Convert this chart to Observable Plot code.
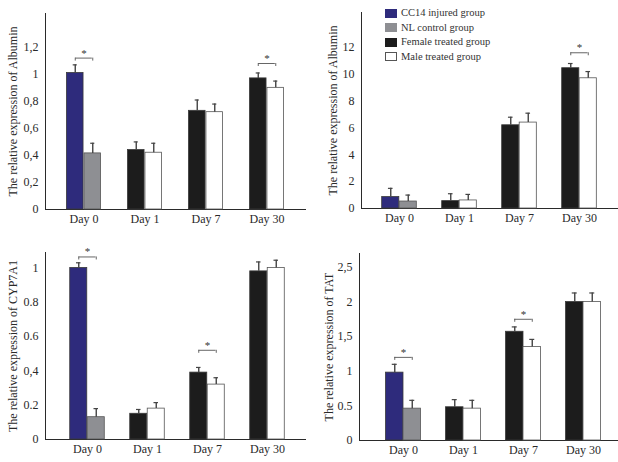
<!DOCTYPE html>
<html>
<head>
<meta charset="utf-8">
<script src="https://cdn.jsdelivr.net/npm/d3@7"></script>
<script src="https://cdn.jsdelivr.net/npm/@observablehq/plot@0.6"></script>
<style>
  html, body { margin: 0; padding: 0; background: white; }
  #root { position: relative; width: 618px; height: 462px; background: white; overflow: hidden; font-family: "Liberation Serif", serif; }
  .panel { position: absolute; }
  #legend { position: absolute; left: 385px; top: 6px; font-size: 10.5px; color: #333; line-height: 14.5px; }
  #legend .row { display: flex; align-items: center; height: 14.5px; }
  #legend .sw { width: 12px; height: 9px; margin-right: 4px; box-sizing: border-box; }
</style>
</head>
<body>
<div id="root"><div id="legend"></div></div>
<script>
// ---- data ----
const days = ["Day 0", "Day 1", "Day 7", "Day 30"];
const groups = ["CC14 injured group", "NL control group", "Female treated group", "Male treated group"];
const groupColors = ["#2e2b7c", "#8e8f93", "#1c1c1c", "#ffffff"];

// Albumin (top-left)
const albA_left = [1.01, 0.44, 0.73, 0.97];
const albA_leftSd = [0.06, 0.06, 0.08, 0.04];
const albA_right = [0.415, 0.42, 0.72, 0.90];
const albA_rightSd = [0.075, 0.07, 0.06, 0.05];
const albA_sig = [{day: "Day 0", level: 1.12}, {day: "Day 30", level: 1.08}];
const albA_ticks = [0, 0.2, 0.4, 0.6, 0.8, 1, 1.2];
const albA_tickLabels = ["0", "0,2", "0,4", "0,6", "0,8", "1", "1,2"];

// Albumin (top-right)
const albB_left = [0.85, 0.55, 6.2, 10.45];
const albB_leftSd = [0.65, 0.55, 0.6, 0.35];
const albB_right = [0.52, 0.6, 6.4, 9.7];
const albB_rightSd = [0.48, 0.45, 0.7, 0.5];
const albB_sig = [{day: "Day 30", level: 11.6}];
const albB_ticks = [0, 2, 4, 6, 8, 10, 12];
const albB_tickLabels = ["0", "2", "4", "6", "8", "10", "12"];

// CYP7A1 (bottom-left)
const cyp_left = [1.0, 0.15, 0.39, 0.98];
const cyp_leftSd = [0.03, 0.025, 0.03, 0.055];
const cyp_right = [0.13, 0.18, 0.32, 1.0];
const cyp_rightSd = [0.05, 0.035, 0.04, 0.045];
const cyp_sig = [{day: "Day 0", level: 1.064}, {day: "Day 7", level: 0.52}];
const cyp_ticks = [0, 0.2, 0.4, 0.6, 0.8, 1];
const cyp_tickLabels = ["0", "0.2", "0,4", "0.6", "0.8", "1"];

// TAT (bottom-right)
const tat_left = [0.98, 0.48, 1.57, 2.0];
const tat_leftSd = [0.12, 0.11, 0.07, 0.13];
const tat_right = [0.46, 0.46, 1.35, 2.0];
const tat_rightSd = [0.12, 0.12, 0.11, 0.13];
const tat_sig = [{day: "Day 0", level: 1.2}, {day: "Day 7", level: 1.75}];
const tat_ticks = [0, 0.5, 1, 1.5, 2, 2.5];
const tat_tickLabels = ["0", "0.5", "1", "1,5", "2", "2,5"];

// ---- layout ----
const panels = [
  {title: "The relative expression of Albumin", left: albA_left, leftSd: albA_leftSd, right: albA_right, rightSd: albA_rightSd, sig: albA_sig, ticks: albA_ticks, labels: albA_tickLabels, ymax: 1.45,
   x: 0, y: 0, ml: 45, mr: 4, mt: 13, mb: 22, po: 0.1, align: 0.5, lo: 37},
  {title: "The relative expression of Albumin", left: albB_left, leftSd: albB_leftSd, right: albB_right, rightSd: albB_rightSd, sig: albB_sig, ticks: albB_ticks, labels: albB_tickLabels, ymax: 14.6,
   x: 309, y: 0, ml: 52, mr: 1, mt: 12, mb: 23, po: 0.12, align: 0.5, lo: 33},
  {title: "The relative expression of CYP7A1", left: cyp_left, leftSd: cyp_leftSd, right: cyp_right, rightSd: cyp_rightSd, sig: cyp_sig, ticks: cyp_ticks, labels: cyp_tickLabels, ymax: 1.09,
   x: 0, y: 231, ml: 45, mr: 4, mt: 21, mb: 23, po: 0.15, align: 0.6, lo: 37},
  {title: "The relative expression of TAT", left: tat_left, leftSd: tat_leftSd, right: tat_right, rightSd: tat_rightSd, sig: tat_sig, ticks: tat_ticks, labels: tat_tickLabels, ymax: 2.7,
   x: 309, y: 231, ml: 50, mr: 1, mt: 22, mb: 22, po: 0.15, align: 0.8, lo: 35}
];

const W = 309, H = 231, BAR = 17.5, CAP = 2.5;
const root = document.getElementById("root");

for (const p of panels) {
  const leftRows = days.map((d, i) => ({day: d, group: i === 0 ? groups[0] : groups[2], mean: p.left[i], top: p.left[i] + p.leftSd[i]}));
  const rightRows = days.map((d, i) => ({day: d, group: i === 0 ? groups[1] : groups[3], mean: p.right[i], top: p.right[i] + p.rightSd[i]}));
  const step = (W - p.ml - p.mr) / (days.length + 2 * p.po);
  const half = step / 2;
  const off = BAR / 2;
  const chart = Plot.plot({
    width: W, height: H,
    marginLeft: p.ml, marginRight: p.mr, marginTop: p.mt, marginBottom: p.mb,
    style: {fontFamily: "Liberation Serif, serif", fontSize: "12px", color: "#2a2a2a", background: "transparent"},
    x: {domain: days, paddingInner: 0, paddingOuter: p.po, align: p.align, tickSize: 0, tickPadding: 5, line: true, label: null},
    y: {domain: [0, p.ymax], ticks: p.ticks, tickFormat: d => p.labels[p.ticks.indexOf(d)], tickSize: 0, tickPadding: 7, line: true,
        label: p.title, labelAnchor: "center", labelOffset: p.lo, labelArrow: "none"},
    color: {domain: groups, range: groupColors},
    marks: [
      Plot.barY(leftRows, {x: "day", y: "mean", fill: "group", stroke: "#3a3a3a", strokeWidth: 0.8, insetLeft: half - BAR, insetRight: half}),
      Plot.barY(rightRows, {x: "day", y: "mean", fill: "group", stroke: "#555", strokeWidth: 0.8, insetLeft: half, insetRight: half - BAR}),
      Plot.ruleX(leftRows, {x: "day", y1: "mean", y2: "top", dx: -off, stroke: "#444", strokeWidth: 1.4}),
      Plot.ruleX(rightRows, {x: "day", y1: "mean", y2: "top", dx: off, stroke: "#444", strokeWidth: 1.4}),
      Plot.tickY(leftRows, {x: "day", y: "top", dx: -off, stroke: "#444", strokeWidth: 1.2, insetLeft: half - CAP, insetRight: half - CAP}),
      Plot.tickY(rightRows, {x: "day", y: "top", dx: off, stroke: "#444", strokeWidth: 1.2, insetLeft: half - CAP, insetRight: half - CAP}),
      Plot.tickY(p.sig, {x: "day", y: "level", stroke: "#555", strokeWidth: 0.9, insetLeft: half - off, insetRight: half - off}),
      Plot.ruleX(p.sig, {x: "day", y1: "level", y2: "level", dx: -off, insetBottom: -3, stroke: "#555", strokeWidth: 0.9}),
      Plot.ruleX(p.sig, {x: "day", y1: "level", y2: "level", dx: off, insetBottom: -3, stroke: "#555", strokeWidth: 0.9}),
      Plot.text(p.sig, {x: "day", y: "level", text: () => "*", dy: -5, fontSize: 11, fill: "#333"})
    ]
  });
  const div = document.createElement("div");
  div.className = "panel";
  div.style.left = p.x + "px";
  div.style.top = p.y + "px";
  div.appendChild(chart);
  root.insertBefore(div, document.getElementById("legend"));
}

// legend
const legend = document.getElementById("legend");
groups.forEach((g, i) => {
  const row = document.createElement("div");
  row.className = "row";
  const sw = document.createElement("div");
  sw.className = "sw";
  sw.style.background = groupColors[i];
  sw.style.border = "1px solid " + (i === 3 ? "#555" : groupColors[i]);
  const t = document.createElement("span");
  t.textContent = g;
  row.appendChild(sw);
  row.appendChild(t);
  legend.appendChild(row);
});
</script>
</body>
</html>
